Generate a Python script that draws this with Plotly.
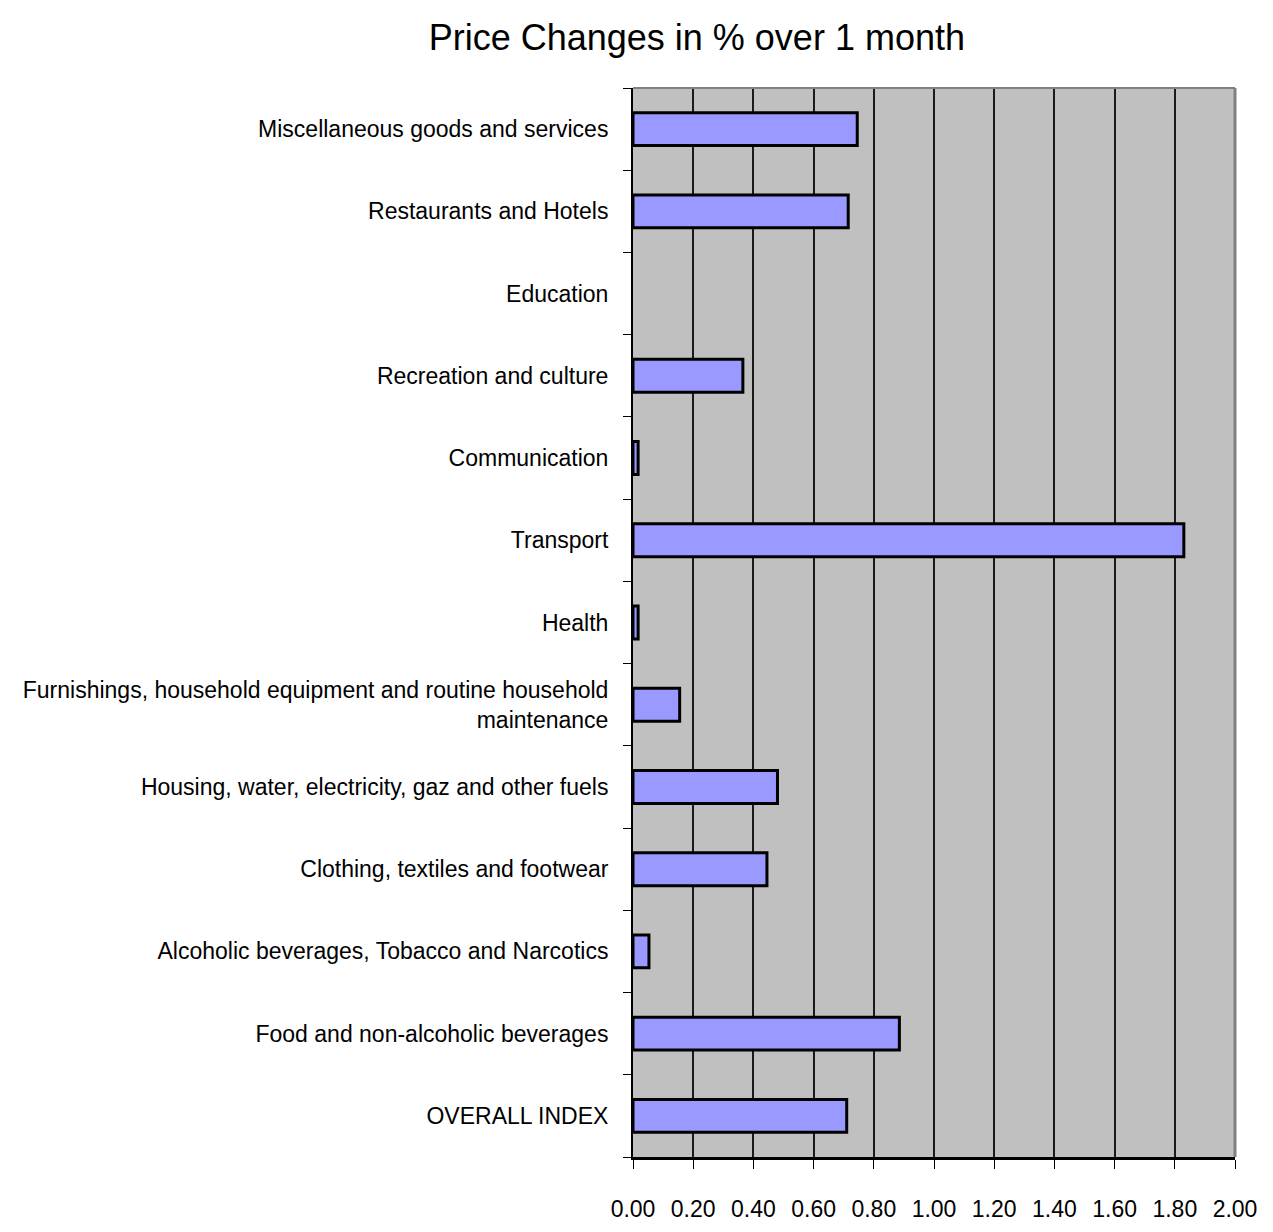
import plotly.graph_objects as go

categories = [
    "OVERALL INDEX",
    "Food and non-alcoholic beverages",
    "Alcoholic beverages, Tobacco and Narcotics",
    "Clothing, textiles and footwear",
    "Housing, water, electricity, gaz and other fuels",
    "Furnishings, household equipment and routine household<br>maintenance",
    "Health",
    "Transport",
    "Communication",
    "Recreation and culture",
    "Education",
    "Restaurants and Hotels",
    "Miscellaneous goods and services",
]
values = [0.71, 0.885, 0.053, 0.445, 0.48, 0.155, 0.017, 1.83, 0.017, 0.365, 0.0, 0.715, 0.745]
x_ticks = [0.0, 0.2, 0.4, 0.6, 0.8, 1.0, 1.2, 1.4, 1.6, 1.8, 2.0]
x_tick_labels = ["0.00", "0.20", "0.40", "0.60", "0.80", "1.00", "1.20", "1.40", "1.60", "1.80", "2.00"]

FONT = "Liberation Sans Narrow, Arial Narrow, Liberation Sans, Arial, sans-serif"

fig = go.Figure()
fig.add_trace(go.Bar(
    x=values,
    y=categories,
    orientation="h",
    marker=dict(color="#9999FF",
                line=dict(color="black", width=[3 if v > 0 else 0 for v in values])),
    hoverinfo="x+y",
))

# page body has an 8px margin; figure sized so that the page is 1273x1232
fig.update_layout(
    width=1257,
    height=1216,
    paper_bgcolor="white",
    plot_bgcolor="#C0C0C0",
    margin=dict(l=625, r=30, t=80, b=67, autoexpand=False),
    bargap=0.6,
    showlegend=False,
    font=dict(family=FONT, color="black", size=23),
    title=dict(
        text="Price Changes in % over 1 month",
        x=0.548,
        xanchor="center",
        y=0.976,
        yanchor="middle",
        font=dict(family=FONT, size=36, color="black"),
    ),
)

fig.update_xaxes(
    range=[0, 2.0],
    tickvals=x_ticks,
    ticktext=x_tick_labels,
    showgrid=True,
    gridcolor="#1a1a1a",
    gridwidth=1.5,
    zeroline=False,
    showline=True,
    linecolor="black",
    linewidth=2.5,
    ticks="outside",
    ticklen=9,
    tickcolor="black",
    ticklabelstandoff=21,
    tickfont=dict(family=FONT, size=23, color="black"),
    automargin=False,
)

fig.update_yaxes(
    categoryorder="array",
    categoryarray=categories,
    showgrid=False,
    zeroline=False,
    showline=True,
    linecolor="black",
    linewidth=2,
    ticks="outside",
    tickson="boundaries",
    ticklen=8,
    tickcolor="black",
    ticklabelstandoff=18,
    tickfont=dict(family=FONT, size=23, color="black"),
    automargin=False,
)

# gray frame at top and right of plot area
fig.add_shape(type="line", xref="paper", yref="paper", x0=0, x1=1, y0=1, y1=1,
              line=dict(color="#808080", width=2))
fig.add_shape(type="line", xref="paper", yref="paper", x0=1, x1=1, y0=0, y1=1,
              line=dict(color="#808080", width=3))

fig.write_html("out.html")
